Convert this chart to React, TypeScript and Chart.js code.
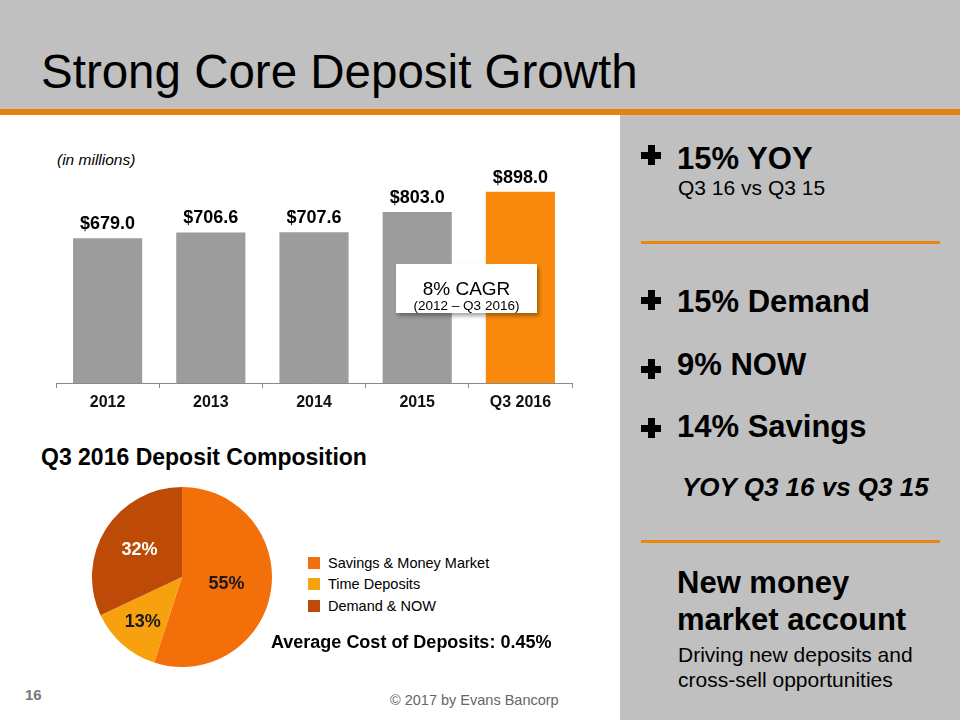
import React, { useEffect, useRef } from "react";
import { Chart, registerables } from "chart.js";

Chart.register(...registerables);

const FONT = '"Liberation Sans", Arial, Helvetica, sans-serif';

// Bar chart data
const barCategories = ["2012", "2013", "2014", "2015", "Q3 2016"];
const barValues = [679.0, 706.6, 707.6, 803.0, 898.0];
const barColors = ["#9c9c9c", "#9c9c9c", "#9c9c9c", "#9c9c9c", "#f98a0c"];

// Pie chart data
const pieLabels = ["Savings & Money Market", "Time Deposits", "Demand & NOW"];
const pieValues = [55, 13, 32];
const pieColors = ["#f36f09", "#f8a10e", "#bd4a07"];
const pieLabelColors = ["#1a1a1a", "#1a1a1a", "#ffffff"];

const valueLabelPlugin = {
  id: "valueLabels",
  afterDatasetsDraw(chart: any) {
    const ctx = chart.ctx;
    const meta = chart.getDatasetMeta(0);
    ctx.save();
    ctx.font = `bold 18px ${FONT}`;
    ctx.fillStyle = "#000";
    ctx.textAlign = "center";
    ctx.textBaseline = "alphabetic";
    meta.data.forEach((bar: any, i: number) => {
      ctx.fillText("$" + barValues[i].toFixed(1), bar.x, bar.y - 9);
    });
    ctx.restore();
  },
};

const pieLabelPlugin = {
  id: "pieLabels",
  afterDatasetsDraw(chart: any) {
    const ctx = chart.ctx;
    const meta = chart.getDatasetMeta(0);
    const factors = [0.5, 0.66, 0.56];
    ctx.save();
    ctx.font = `bold 18px ${FONT}`;
    ctx.textAlign = "center";
    ctx.textBaseline = "middle";
    meta.data.forEach((arc: any, i: number) => {
      const a = (arc.startAngle + arc.endAngle) / 2;
      const r = arc.outerRadius * factors[i];
      ctx.fillStyle = pieLabelColors[i];
      ctx.fillText(pieValues[i] + "%", arc.x + Math.cos(a) * r, arc.y + Math.sin(a) * r);
    });
    ctx.restore();
  },
};

function abs(left: number, top: number, extra: React.CSSProperties = {}): React.CSSProperties {
  return { position: "absolute", left, top, whiteSpace: "nowrap", lineHeight: 1, ...extra };
}

function Plus({ cx, cy }: { cx: number; cy: number }) {
  const s = 20;
  const t = 7;
  return (
    <>
      <div style={{ position: "absolute", left: cx - s / 2, top: cy - t / 2, width: s, height: t, background: "#000" }} />
      <div style={{ position: "absolute", left: cx - t / 2, top: cy - s / 2, width: t, height: s, background: "#000" }} />
    </>
  );
}

export default function App() {
  const barRef = useRef<HTMLCanvasElement>(null);
  const pieRef = useRef<HTMLCanvasElement>(null);

  useEffect(() => {
    const bar = new Chart(barRef.current as HTMLCanvasElement, {
      type: "bar",
      data: {
        labels: barCategories,
        datasets: [
          {
            data: barValues,
            backgroundColor: barColors,
            borderWidth: 0,
            barPercentage: 0.67,
            categoryPercentage: 1,
          },
        ],
      },
      options: {
        responsive: false,
        animation: false,
        devicePixelRatio: 1,
        layout: { padding: { left: 56, right: 48, top: 50, bottom: 0 } },
        plugins: { legend: { display: false }, tooltip: { enabled: false } },
        scales: {
          y: { display: false, min: 0, max: 1000 },
          x: {
            afterFit: (scale: any) => {
              scale.height = 37;
            },
            grid: {
              offset: true,
              drawOnChartArea: false,
              drawTicks: true,
              tickLength: 5,
              color: "#8a8a8a",
            },
            border: { display: true, color: "#8a8a8a", width: 1 },
            ticks: {
              padding: 5,
              color: "#111",
              font: { family: FONT, size: 16, weight: "bold" },
              maxRotation: 0,
            },
          },
        },
      },
      plugins: [valueLabelPlugin],
    } as any);

    const pie = new Chart(pieRef.current as HTMLCanvasElement, {
      type: "pie",
      data: {
        labels: pieLabels,
        datasets: [{ data: pieValues, backgroundColor: pieColors, borderWidth: 0 }],
      },
      options: {
        responsive: false,
        animation: false,
        devicePixelRatio: 1,
        layout: { padding: 0 },
        plugins: { legend: { display: false }, tooltip: { enabled: false } },
      },
      plugins: [pieLabelPlugin],
    } as any);

    return () => {
      bar.destroy();
      pie.destroy();
    };
  }, []);

  return (
    <div
      style={{
        position: "absolute",
        left: 0,
        top: 0,
        width: 960,
        height: 720,
        overflow: "hidden",
        background: "#ffffff",
        fontFamily: FONT,
        color: "#000",
      }}
    >
      {/* header */}
      <div style={{ position: "absolute", left: 0, top: 0, width: 960, height: 109, background: "#c0c0c0" }} />
      <div style={{ position: "absolute", left: 0, top: 109, width: 960, height: 6, background: "#e8820f" }} />
      <div style={abs(41, 47.5, { fontSize: 47.5 })}>Strong Core Deposit Growth</div>

      {/* right panel */}
      <div style={{ position: "absolute", left: 620, top: 115, width: 340, height: 605, background: "#c0c0c0" }} />
      <Plus cx={651} cy={155} />
      <div style={abs(677, 142.5, { fontSize: 31, fontWeight: "bold" })}>15% YOY</div>
      <div style={abs(678, 176.5, { fontSize: 21 })}>Q3 16 vs Q3 15</div>
      <div style={{ position: "absolute", left: 641, top: 241, width: 299, height: 3, background: "#e8860f" }} />
      <Plus cx={651} cy={300} />
      <div style={abs(677, 285.5, { fontSize: 31, fontWeight: "bold" })}>15% Demand</div>
      <Plus cx={651} cy={369} />
      <div style={abs(677, 348.5, { fontSize: 31, fontWeight: "bold" })}>9% NOW</div>
      <Plus cx={651} cy={428} />
      <div style={abs(677, 410.5, { fontSize: 31, fontWeight: "bold" })}>14% Savings</div>
      <div style={abs(682, 474, { fontSize: 26, fontWeight: "bold", fontStyle: "italic" })}>YOY Q3 16 vs Q3 15</div>
      <div style={{ position: "absolute", left: 641, top: 540, width: 299, height: 3, background: "#e8860f" }} />
      <div style={abs(677, 567, { fontSize: 31, fontWeight: "bold" })}>New money</div>
      <div style={abs(677, 604, { fontSize: 31, fontWeight: "bold" })}>market account</div>
      <div style={abs(678, 643.5, { fontSize: 21 })}>Driving new deposits and</div>
      <div style={abs(678, 668.5, { fontSize: 21 })}>cross-sell opportunities</div>

      {/* bar chart */}
      <div style={abs(57, 152, { fontSize: 15.5, fontStyle: "italic" })}>(in millions)</div>
      <canvas ref={barRef} width={620} height={300} style={{ position: "absolute", left: 0, top: 120 }} />
      <div
        style={{
          position: "absolute",
          left: 396,
          top: 264,
          width: 141,
          height: 49,
          background: "#fff",
          boxShadow: "2px 3px 4px rgba(0,0,0,0.35)",
          textAlign: "center",
        }}
      >
        <div style={{ position: "absolute", left: 0, right: 0, top: 14.5, fontSize: 19, lineHeight: 1 }}>8% CAGR</div>
        <div style={{ position: "absolute", left: 0, right: 0, top: 34.5, fontSize: 13.5, lineHeight: 1 }}>(2012 – Q3 2016)</div>
      </div>

      {/* pie */}
      <div style={abs(41, 445.5, { fontSize: 23, fontWeight: "bold" })}>Q3 2016 Deposit Composition</div>
      <canvas ref={pieRef} width={180} height={180} style={{ position: "absolute", left: 92, top: 487 }} />
      {pieLabels.map((l, i) => (
        <React.Fragment key={l}>
          <div
            style={{
              position: "absolute",
              left: 308,
              top: [563, 584, 606][i] - 6,
              width: 12,
              height: 12,
              background: pieColors[i],
            }}
          />
          <div style={abs(328, [563, 584, 606][i] - 7.25, { fontSize: 14.5 })}>{l}</div>
        </React.Fragment>
      ))}
      <div style={abs(271, 633, { fontSize: 18, fontWeight: "bold" })}>Average Cost of Deposits: 0.45%</div>

      {/* footer */}
      <div style={abs(25, 686.5, { fontSize: 15, fontWeight: "bold", color: "#777" })}>16</div>
      <div style={abs(390, 693, { fontSize: 14.5, color: "#666" })}>© 2017 by Evans Bancorp</div>
    </div>
  );
}
